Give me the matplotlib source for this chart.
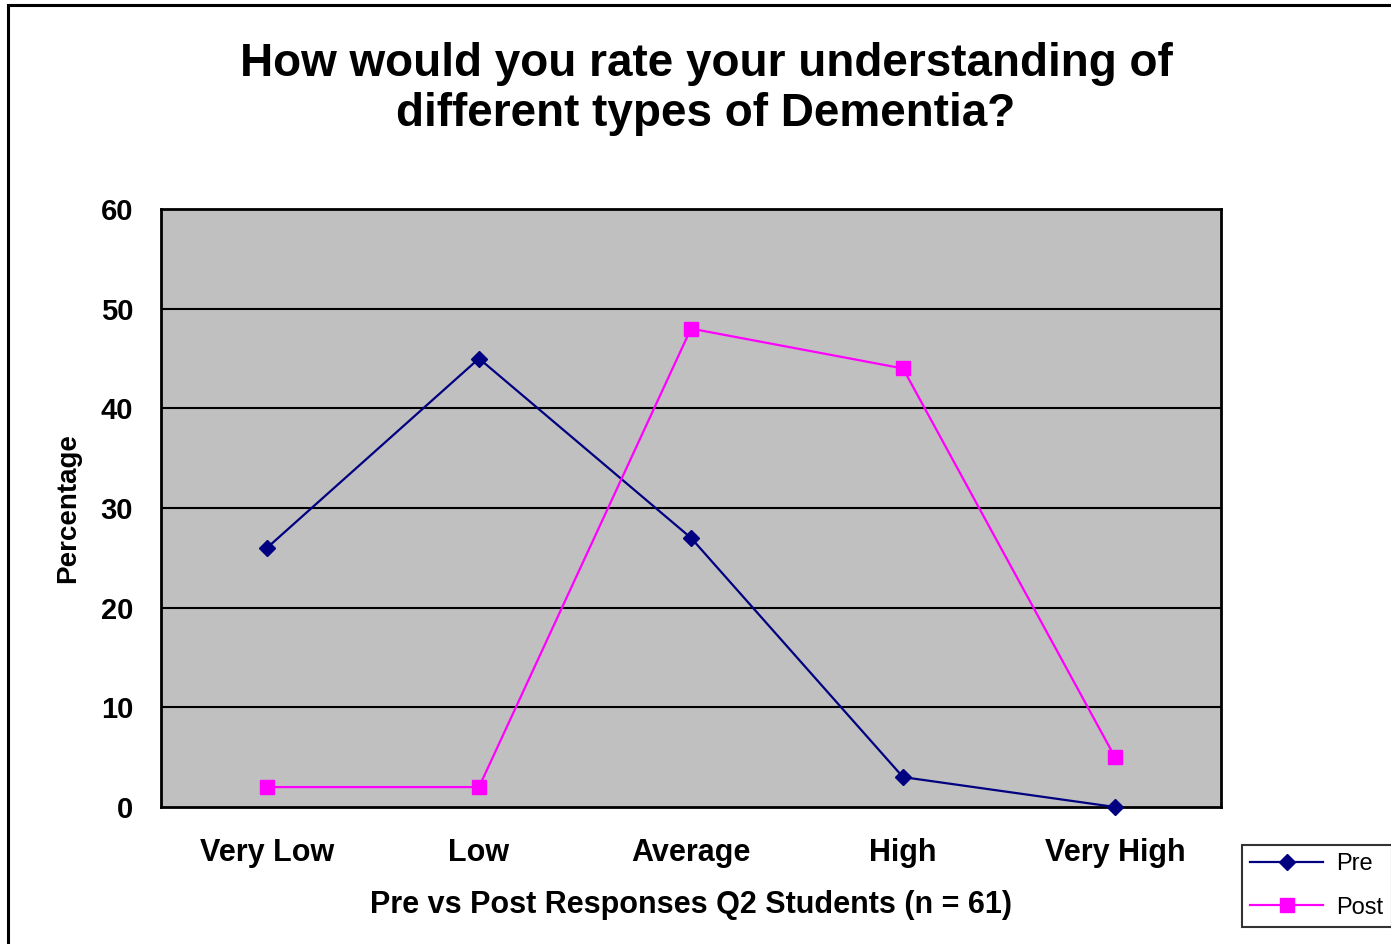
import matplotlib.pyplot as plt
from matplotlib.patches import Rectangle

plt.rcParams["font.family"] = ["Liberation Sans", "DejaVu Sans"]

categories = ["Very Low", "Low", "Average", "High", "Very High"]
pre_values = [26, 45, 27, 3, 0]
post_values = [2, 2, 48, 44, 5]
y_ticks = [0, 10, 20, 30, 40, 50, 60]

fig = plt.figure(figsize=(13.91, 9.44), dpi=100)
ax = fig.add_axes([161 / 1391, 137 / 944, 1060 / 1391, 598 / 944])

# outer chart frame (runs off the right and bottom edges)
fig.patches.append(
    Rectangle((8 / 1391, -0.05), 1.2, 0.05 + 939 / 944,
              transform=fig.transFigure, fill=False,
              edgecolor="black", linewidth=2.2)
)

x = [i + 0.5 for i in range(len(categories))]

ax.set_facecolor("#C0C0C0")
for y in y_ticks[1:-1]:
    ax.axhline(y, color="black", linewidth=1.5, zorder=1)

ax.plot(x, pre_values, color="#000080", linewidth=1.6, marker="D",
        markersize=8.5, label="Pre", zorder=3, clip_on=False)
ax.plot(x, post_values, color="#FF00FF", linewidth=1.6, marker="s",
        markersize=10.5, label="Post", zorder=3, clip_on=False)

ax.set_xlim(0, 5)
ax.set_ylim(0, 60)
ax.set_xticks(x)
ax.set_xticklabels(categories, fontsize=22, fontweight="bold")
ax.set_yticks(y_ticks)
ax.set_yticklabels([str(v) for v in y_ticks], fontsize=21, fontweight="bold")
ax.tick_params(axis="x", length=0, pad=22)
ax.tick_params(axis="y", length=0, pad=20)

for spine in ax.spines.values():
    spine.set_linewidth(2)
    spine.set_color("black")

ax.set_xlabel("Pre vs Post Responses Q2 Students (n = 61)",
              fontsize=22, fontweight="bold", labelpad=16)
ax.set_ylabel("Percentage", fontsize=20, fontweight="bold", labelpad=14)

fig.text(706 / 1391, 1 - 89 / 944,
         "How would you rate your understanding of\ndifferent types of Dementia?",
         ha="center", va="center", fontsize=33, fontweight="bold",
         linespacing=1.2)

leg = fig.legend(loc="lower left", bbox_to_anchor=(1242 / 1391, 17 / 944),
                 fontsize=17, frameon=True, fancybox=False,
                 borderpad=0.35, handlelength=3.1, handletextpad=0.55,
                 labelspacing=0.9, borderaxespad=0)
leg.get_frame().set_edgecolor("black")
leg.get_frame().set_linewidth(1.5)

fig.savefig("out.png", dpi=100)
